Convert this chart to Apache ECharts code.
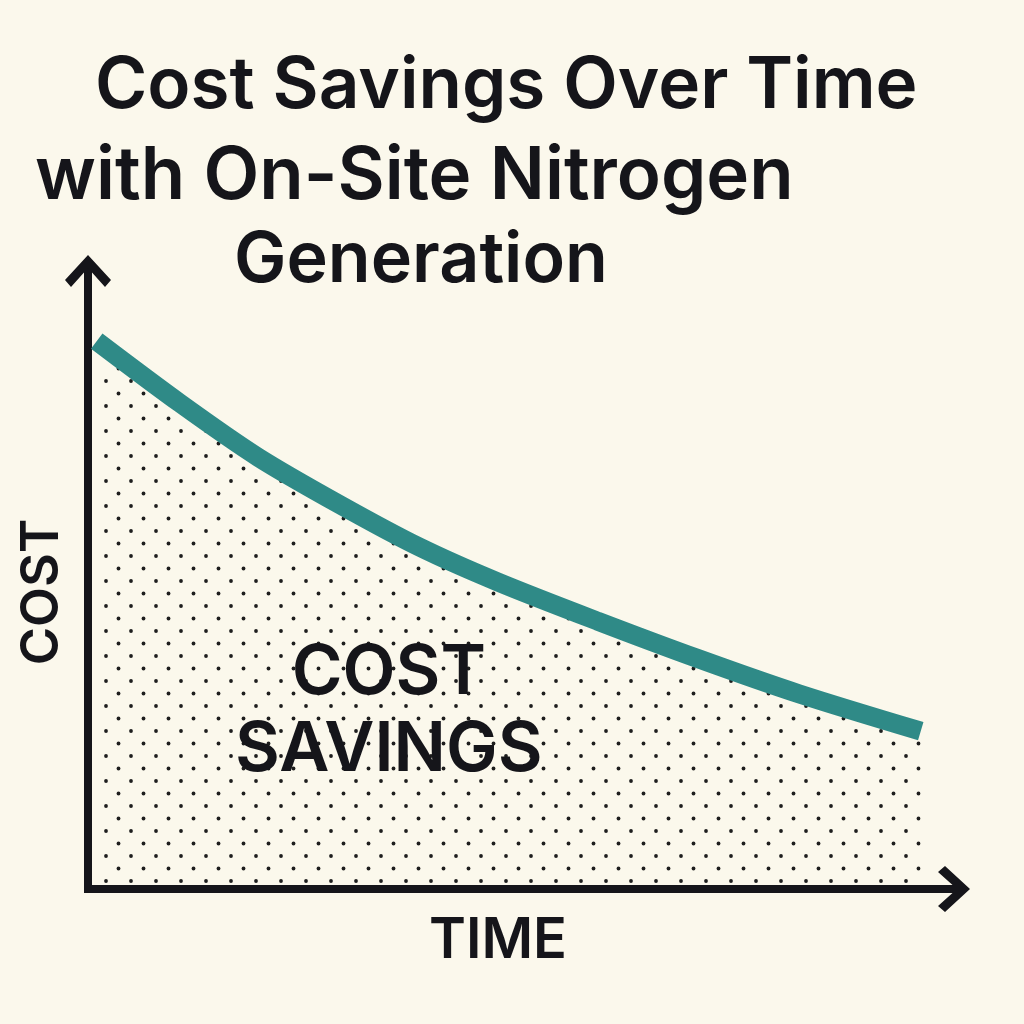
<!DOCTYPE html>
<html>
<head>
<meta charset="utf-8">
<script src="https://cdn.jsdelivr.net/npm/echarts@6/dist/echarts.min.js"></script>
<style>
  html, body { margin: 0; padding: 0; background: #fbf8ec; }
  #chart { width: 1024px; height: 1024px; }
</style>
</head>
<body>
<div id="chart"></div>
<script>
// time (arbitrary units) and cost
var timePoints = [0.1, 1.05, 1.95, 2.9, 3.8, 4.7, 5.85, 7.0, 8.15, 9.55];
var costValues = [87.8, 77.9, 69.2, 61.5, 54.8, 49.2, 42.9, 36.9, 31.3, 25.3];
var titleLines = ['Cost Savings Over Time', 'with On-Site Nitrogen', 'Generation'];
var areaLabel = ['COST', 'SAVINGS'];

var chart = echarts.init(document.getElementById('chart'));

// little dot pattern for the shaded area
function dotPattern() {
	var c = document.createElement('canvas');
	c.width = 25; c.height = 25;
	var ctx = c.getContext('2d');
	ctx.fillStyle = '#1e1e1e';
	[[6, 6], [18.5, 18.5]].forEach(function (p) {
		ctx.beginPath();
		ctx.arc(p[0], p[1], 1.9, 0, Math.PI * 2);
		ctx.fill();
	});
	return c;
}

var chevron = 'path://M23,0 L46,25 L40,32 L23,13 L6,32 L0,25 Z';
var ink = '#15151a';
var font = 'Inter';

var axisLine = {
	show: true,
	symbol: ['none', chevron],
	symbolSize: [46, 32],
	symbolOffset: [0, -6],
	lineStyle: { color: ink, width: 8, cap: 'square' }
};

var titleSizes = [71, 72.6, 70];

var option = {
	backgroundColor: '#fbf8ec',
	animation: false,
	title: [
		{ text: titleLines[0], left: 95, top: 51 },
		{ text: titleLines[1], left: 35, top: 141 },
		{ text: titleLines[2], left: 234, top: 226 }
	].map(function (t, i) {
		t.padding = 0;
		t.textStyle = { fontFamily: font, fontSize: titleSizes[i], fontWeight: 600, color: ink };
		return t;
	}),
	grid: { left: 88, right: 64, top: 265, bottom: 135 },
	xAxis: {
		type: 'value',
		min: 0,
		max: 10,
		name: 'TIME',
		nameLocation: 'middle',
		nameGap: 24,
		nameTextStyle: { fontFamily: font, fontSize: 56, fontWeight: 600, color: ink, padding: [0, 52, 0, 0] },
		axisLine: axisLine,
		axisTick: { show: false },
		axisLabel: { show: false },
		splitLine: { show: false }
	},
	yAxis: {
		type: 'value',
		min: 0,
		max: 100,
		name: 'COST',
		nameLocation: 'middle',
		nameRotate: 90,
		nameGap: 20,
		nameTextStyle: { fontFamily: font, fontSize: 52, fontWeight: 600, color: ink, padding: [0, 30, 0, 0] },
		axisLine: axisLine,
		axisTick: { show: false },
		axisLabel: { show: false },
		splitLine: { show: false }
	},
	series: [{
		type: 'line',
		smooth: 0.3,
		showSymbol: false,
		data: timePoints.map(function (t, i) { return [t, costValues[i]]; }),
		lineStyle: { color: '#2f8a87', width: 19 },
		areaStyle: { color: { image: dotPattern(), repeat: 'repeat' }, opacity: 1 },
		markPoint: {
			symbol: 'circle',
			symbolSize: 0,
			data: [{ coord: [3.45, 28.4] }],
			label: {
				show: true,
				position: 'inside',
				formatter: areaLabel.join('\n'),
				fontFamily: font,
				fontSize: 69,
				fontWeight: 600,
				lineHeight: 77,
				align: 'center',
				color: ink
			}
		}
	}]
};

chart.setOption(option);
</script>
</body>
</html>
